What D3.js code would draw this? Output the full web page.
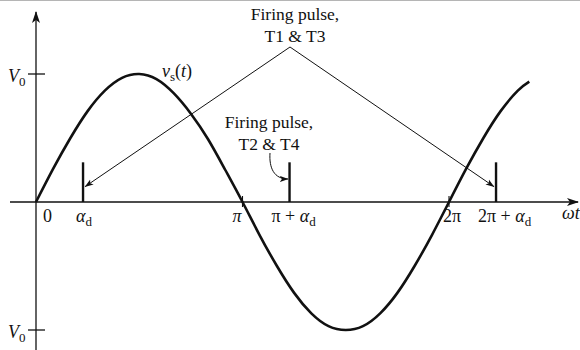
<!DOCTYPE html>
<html>
<head>
<meta charset="utf-8">
<script src="https://cdn.jsdelivr.net/npm/d3@7/dist/d3.min.js"></script>
<style>
  html, body { margin: 0; padding: 0; background: #fff; }
  svg { display: block; }
  text { font-family: "Liberation Serif", "DejaVu Serif", serif; fill: #111; }
</style>
</head>
<body>
<svg id="chart" width="580" height="350"></svg>
<script>
// Source voltage v_s(t), sampled every 15° of ωt (values in units of V0)
const angleDeg = [0, 15, 30, 45, 60, 75, 90, 105, 120, 135, 150, 165, 180,
                  195, 210, 225, 240, 255, 270, 285, 300, 315, 330, 345, 360,
                  375, 390, 405, 420, 430];
const vsValues = [0, 0.26, 0.5, 0.71, 0.87, 0.97, 1, 0.96, 0.85, 0.69, 0.49, 0.25, 0,
                  -0.26, -0.5, -0.71, -0.87, -0.97, -1, -0.97, -0.87, -0.71, -0.5, -0.26, 0,
                  0.26, 0.5, 0.71, 0.87, 0.94];

// Firing angle α_d (degrees) and the firing pulses
const alphaDeg = 41;
const pulseAngles = [alphaDeg, 180 + alphaDeg, 360 + alphaDeg];
const pulseHeight = 0.31;            // drawn pulse height, in units of V0
const piTicks = [180, 360];          // π and 2π

const svg = d3.select("#chart");

const x = d3.scaleLinear().domain([0, 360]).range([36, 449]);
const y = d3.scaleLinear().domain([-1, 1]).range([330, 74]);

// thin frame edge along the top
svg.append("line").attr("x1", 0).attr("x2", 580).attr("y1", 0.5).attr("y2", 0.5)
  .attr("stroke", "#b5b5b5").attr("stroke-width", 1.2);

// arrowhead markers
const defs = svg.append("defs");
defs.append("marker").attr("id", "axisHead")
  .attr("viewBox", "0 0 12 10").attr("refX", 11).attr("refY", 5)
  .attr("markerWidth", 12).attr("markerHeight", 10).attr("markerUnits", "userSpaceOnUse")
  .attr("orient", "auto")
  .append("path").attr("d", "M0,1 L12,5 L0,9 L3,5 Z").attr("fill", "#111");
defs.append("marker").attr("id", "smallHead")
  .attr("viewBox", "0 0 10 8").attr("refX", 9.5).attr("refY", 4)
  .attr("markerWidth", 9).attr("markerHeight", 7).attr("markerUnits", "userSpaceOnUse")
  .attr("orient", "auto")
  .append("path").attr("d", "M0,0.5 L10,4 L0,7.5 L2.5,4 Z").attr("fill", "#111");

// axes
svg.append("line").attr("x1", 10).attr("x2", 578).attr("y1", y(0)).attr("y2", y(0))
  .attr("stroke", "#111").attr("stroke-width", 1.3).attr("marker-end", "url(#axisHead)");
svg.append("line").attr("x1", x(0)).attr("x2", x(0)).attr("y1", 350).attr("y2", 12)
  .attr("stroke", "#111").attr("stroke-width", 1.3).attr("marker-end", "url(#axisHead)");

// ±V0 ticks on the vertical axis
svg.selectAll(".vtick").data([1, -1]).join("line").attr("class", "vtick")
  .attr("x1", x(0) - 8).attr("x2", x(0) + 9)
  .attr("y1", d => y(d)).attr("y2", d => y(d))
  .attr("stroke", "#111").attr("stroke-width", 1.3);

// π and 2π ticks on the horizontal axis
svg.selectAll(".ptick").data(piTicks).join("line").attr("class", "ptick")
  .attr("x1", d => x(d)).attr("x2", d => x(d))
  .attr("y1", y(0) - 6).attr("y2", y(0) + 5)
  .attr("stroke", "#111").attr("stroke-width", 1.1);

// the sine wave
const line = d3.line().x(d => x(d[0])).y(d => y(d[1])).curve(d3.curveNatural);
svg.append("path").datum(angleDeg.map((a, i) => [a, vsValues[i]]))
  .attr("d", line).attr("fill", "none").attr("stroke", "#111")
  .attr("stroke-width", 2.6).attr("stroke-linejoin", "round");

// firing pulses
svg.selectAll(".pulse").data(pulseAngles).join("line").attr("class", "pulse")
  .attr("x1", d => x(d)).attr("x2", d => x(d))
  .attr("y1", y(0)).attr("y2", y(pulseHeight))
  .attr("stroke", "#111").attr("stroke-width", 2.4);

// annotation: T1 & T3 pulses
const apex = [290, 47];
[pulseAngles[0], pulseAngles[2]].forEach((a, i) => {
  const tx = x(a) + (i === 0 ? 2 : -2);
  svg.append("line").attr("x1", apex[0]).attr("y1", apex[1])
    .attr("x2", tx).attr("y2", y(0.12))
    .attr("stroke", "#111").attr("stroke-width", 1)
    .attr("marker-end", "url(#smallHead)");
});

// annotation: T2 & T4 pulse (curved arrow)
const p2 = x(pulseAngles[1]) - 1.5;
svg.append("path")
  .attr("d", `M270,153 C269,168 274,179 ${p2},179`)
  .attr("fill", "none").attr("stroke", "#111").attr("stroke-width", 1)
  .attr("marker-end", "url(#smallHead)");

// annotation texts
function label(xc, yb, str) {
  svg.append("text").attr("x", xc).attr("y", yb).attr("text-anchor", "middle")
    .attr("font-size", 17.5).text(str);
}
label(295, 20, "Firing pulse,");
label(295, 42, "T1 & T3");
label(269, 128, "Firing pulse,");
label(269, 150, "T2 & T4");

// math labels with italic symbols and subscripts
function mathText(xp, yb, parts, anchor) {
  const t = svg.append("text").attr("x", xp).attr("y", yb).attr("font-size", 18)
    .attr("text-anchor", anchor || "start");
  parts.forEach(p => {
    const s = t.append("tspan").text(p.t);
    if (p.i) s.attr("font-style", "italic");
    if (p.sub) s.attr("font-size", 13).attr("dy", 4);
    if (p.up) s.attr("dy", -4);
  });
  return t;
}

mathText(8, 82, [{t: "V", i: true}, {t: "0", sub: true}]);
mathText(8, 338, [{t: "V", i: true}, {t: "0", sub: true}]);
mathText(162, 77, [{t: "v", i: true}, {t: "s", sub: true}, {t: "(", up: true}, {t: "t", i: true}, {t: ")"}]);

const lb = 222;
mathText(43, lb, [{t: "0"}]);
mathText(x(pulseAngles[0]) - 7, lb, [{t: "α", i: true}, {t: "d", sub: true}]);
mathText(x(180) - 1, lb, [{t: "π", i: true}], "end");
mathText(x(pulseAngles[1]) - 18, lb, [{t: "π + ", i: false}, {t: "α", i: true}, {t: "d", sub: true}]);
mathText(x(360) - 6, lb, [{t: "2π"}]);
mathText(x(pulseAngles[2]) - 18, lb, [{t: "2π + "}, {t: "α", i: true}, {t: "d", sub: true}]);
mathText(562, 219, [{t: "ωt", i: true}]);
</script>
</body>
</html>
